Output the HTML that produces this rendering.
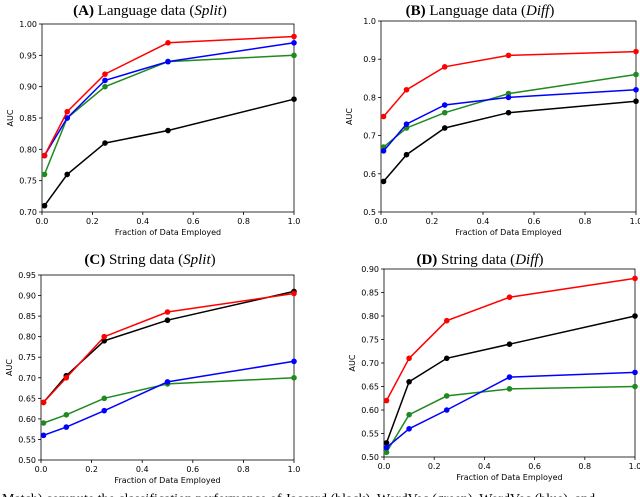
<!DOCTYPE html>
<html><head><meta charset="utf-8"><style>
html,body{margin:0;padding:0;background:#fff;width:640px;height:497px;overflow:hidden}
svg{display:block}
</style></head><body>
<svg id="c" width="640" height="497" xmlns="http://www.w3.org/2000/svg"></svg>
<script>
const xs = [0.01, 0.1, 0.25, 0.5, 1.0];
const xTicks = ["0.0","0.2","0.4","0.6","0.8","1.0"];
const titlesBold = ["(A)","(B)","(C)","(D)"];
const titlesText = ["Language data","Language data","String data","String data"];
const titlesItal = ["Split","Diff","Split","Diff"];
const aBlack=[0.71,0.76,0.81,0.83,0.88], aGreen=[0.76,0.85,0.90,0.94,0.95], aBlue=[0.79,0.85,0.91,0.94,0.97], aRed=[0.79,0.86,0.92,0.97,0.98];
const bBlack=[0.58,0.65,0.72,0.76,0.79], bGreen=[0.67,0.72,0.76,0.81,0.86], bBlue=[0.66,0.73,0.78,0.80,0.82], bRed=[0.75,0.82,0.88,0.91,0.92];
const cBlack=[0.64,0.705,0.79,0.84,0.91], cGreen=[0.59,0.61,0.65,0.685,0.70], cBlue=[0.56,0.58,0.62,0.69,0.74], cRed=[0.64,0.70,0.80,0.86,0.905];
const dBlack=[0.53,0.66,0.71,0.74,0.80], dGreen=[0.51,0.59,0.63,0.645,0.65], dBlue=[0.52,0.56,0.60,0.67,0.68], dRed=[0.62,0.71,0.79,0.84,0.88];
const aTicks=["0.70","0.75","0.80","0.85","0.90","0.95","1.00"];
const bTicks=["0.5","0.6","0.7","0.8","0.9","1.0"];
const cTicks=["0.50","0.55","0.60","0.65","0.70","0.75","0.80","0.85","0.90","0.95"];
const dTicks=["0.50","0.55","0.60","0.65","0.70","0.75","0.80","0.85","0.90"];

const NS="http://www.w3.org/2000/svg";
const svg=document.getElementById('c');
function mk(t,a,p){const e=document.createElementNS(NS,t);for(const k in a)e.setAttribute(k,a[k]);(p||svg).appendChild(e);return e;}

const panels=[
 {L:42,R:294,T:24,B:212,ticks:aTicks,ser:[aBlack,aGreen,aBlue,aRed],tx:150,ty:9,name:'a'},
 {L:381,R:636,T:21,B:212,ticks:bTicks,ser:[bBlack,bGreen,bBlue,bRed],tx:480,ty:9,name:'b'},
 {L:41,R:294,T:275,B:460,ticks:cTicks,ser:[cBlack,cGreen,cBlue,cRed],tx:150,ty:258,name:'c'},
 {L:384,R:635,T:269,B:457,ticks:dTicks,ser:[dBlack,dGreen,dBlue,dRed],tx:480,ty:258,name:'d'}
];
const colors=["#000000","#1f8a1f","#0000ff","#ff0000"];
const snames=["jaccard-black","wordvec-green","wordvec-blue","red-series"];
panels.forEach((p,pi)=>{
 const g=mk('g',{});
 
 
 const y0=parseFloat(p.ticks[0]), y1=parseFloat(p.ticks[p.ticks.length-1]);
 const X=v=>p.L+(v-0)/(1-0)*(p.R-p.L);
 const Y=v=>p.B-(v-y0)/(y1-y0)*(p.B-p.T);
 const t=mk('text',{x:p.tx,y:p.ty+6,'text-anchor':'middle','font-family':'Liberation Serif, serif','font-size':'15'},g);
 
 
 const b=mk('tspan',{'font-weight':'bold'},t);b.textContent=titlesBold[pi];
 const m=mk('tspan',{},t);m.textContent=' '+titlesText[pi]+' (';
 const it=mk('tspan',{'font-style':'italic'},t);it.textContent=titlesItal[pi];
 const e=mk('tspan',{},t);e.textContent=')';
 const fr=mk('rect',{x:p.L,y:p.T,width:p.R-p.L,height:p.B-p.T,fill:'none',stroke:'#000','stroke-width':'0.8'},g);
 
 
 p.ticks.forEach(tl=>{const v=parseFloat(tl),yy=Y(v);
  mk('line',{x1:p.L-3,x2:p.L,y1:yy,y2:yy,stroke:'#000','stroke-width':'0.8'},g);
  const tt=mk('text',{x:p.L-5,y:yy+3,'text-anchor':'end','font-family':'DejaVu Sans, sans-serif','font-size':'8'},g);
  tt.textContent=tl;
  
  
 });
 xTicks.forEach(tl=>{const v=parseFloat(tl),xx=X(v);
  mk('line',{x1:xx,x2:xx,y1:p.B,y2:p.B+3,stroke:'#000','stroke-width':'0.8'},g);
  const tt=mk('text',{x:xx,y:p.B+12,'text-anchor':'middle','font-family':'DejaVu Sans, sans-serif','font-size':'8'},g);
  tt.textContent=tl;
  
  
 });
 const xl=mk('text',{x:(p.L+p.R)/2,y:p.B+23,'text-anchor':'middle','font-family':'DejaVu Sans, sans-serif','font-size':'8'},g);
 xl.textContent='Fraction of Data Employed';
 
 
 const yl=mk('text',{x:0,y:0,'text-anchor':'middle','font-family':'DejaVu Sans, sans-serif','font-size':'8',transform:`translate(${p.L-29},${(p.T+p.B)/2}) rotate(-90)`},g);
 yl.textContent='AUC';
 
 
 p.ser.forEach((s,si)=>{
  const pts=s.map((v,i)=>X(xs[i]).toFixed(1)+','+Y(v).toFixed(1)).join(' ');
  const pl=mk('polyline',{points:pts,fill:'none',stroke:colors[si],'stroke-width':'1.5'},g);
  
  
  s.forEach((v,i)=>{
   const c=mk('circle',{cx:X(xs[i]),cy:Y(v),r:2.8,fill:colors[si]},g);
   
   
  });
 });
});
const cap=mk('text',{x:2,y:503,'font-family':'Liberation Serif, serif','font-size':'14'});
cap.textContent='Match) compute the classification performance of Jaccard (black), WordVec (green), WordVec (blue), and';


</script>
</body></html>
